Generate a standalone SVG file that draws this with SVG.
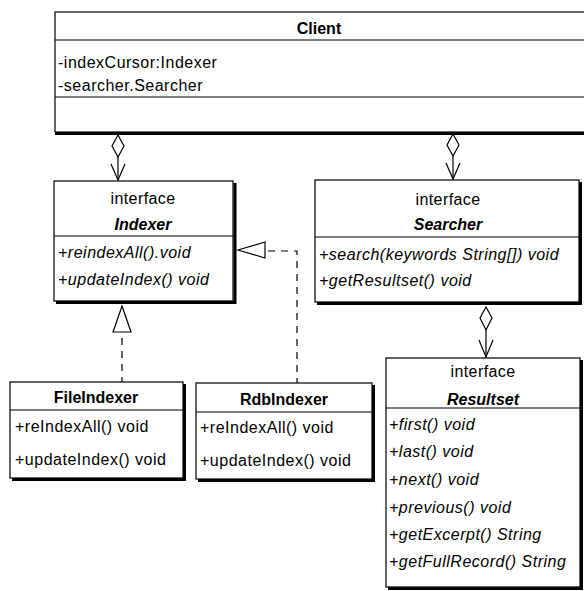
<svg xmlns="http://www.w3.org/2000/svg" width="584" height="591" viewBox="0 0 584 591">
  <style>
    text { font-family: "Liberation Sans", Arial, sans-serif; font-size: 16px; fill: #000; }
    .title { font-weight: bold; text-anchor: middle; }
    .ititle { font-weight: bold; font-style: italic; text-anchor: middle; }
    .stereo { text-anchor: middle; letter-spacing: 0.4px; }
    .member { letter-spacing: 0.5px; }
    .imember { font-style: italic; letter-spacing: 0.5px; }
    .box { fill: #fff; stroke: #000; stroke-width: 1.2; }
    .shadow { fill: none; stroke: #000; stroke-width: 3; }
    .sep { stroke: #000; stroke-width: 1.2; }
    .edge { fill: none; stroke: #000; stroke-width: 1.2; }
    .dash { fill: none; stroke: #000; stroke-width: 1.2; stroke-dasharray: 7 6; }
    .diamond { fill: #fff; stroke: #000; stroke-width: 1.2; }
    .tri { fill: #fff; stroke: #000; stroke-width: 1.2; }
  </style>
  <rect width="584" height="591" fill="#fff"/>

  <!-- Client class -->
  <g id="client">
    <rect class="box" x="55" y="12" width="560" height="120"/>
    <polyline class="shadow" points="55,133.5 600,133.5"/>
    <line class="sep" x1="55" y1="40" x2="600" y2="40"/>
    <line class="sep" x1="55" y1="97" x2="600" y2="97"/>
    <text class="title" x="319" y="34">Client</text>
    <text class="member" x="58" y="68">-indexCursor:Indexer</text>
    <text class="member" x="58" y="91">-searcher.Searcher</text>
  </g>

  <!-- Indexer interface -->
  <g id="indexer">
    <rect class="box" x="54" y="181" width="179" height="120"/>
    <polyline class="shadow" points="235,183 235,302.5 56,302.5"/>
    <line class="sep" x1="54" y1="236" x2="233" y2="236"/>
    <text class="stereo" x="143" y="204">interface</text>
    <text class="ititle" x="143" y="230">Indexer</text>
    <text class="imember" x="58" y="258">+reindexAll().void</text>
    <text class="imember" x="58" y="285">+updateIndex() void</text>
  </g>

  <!-- Searcher interface -->
  <g id="searcher">
    <rect class="box" x="315" y="180" width="264" height="122"/>
    <polyline class="shadow" points="580.5,182 580.5,303.5 317,303.5"/>
    <line class="sep" x1="315" y1="237" x2="579" y2="237"/>
    <text class="stereo" x="448" y="205">interface</text>
    <text class="ititle" x="448" y="230">Searcher</text>
    <text class="imember" x="319" y="260" letter-spacing="0.2">+search(keywords String[]) void</text>
    <text class="imember" x="319" y="286">+getResultset() void</text>
  </g>

  <!-- Resultset interface -->
  <g id="resultset">
    <rect class="box" x="386" y="358" width="194" height="229"/>
    <polyline class="shadow" points="581.5,360 581.5,588.5 388,588.5"/>
    <line class="sep" x1="386" y1="408" x2="580" y2="408"/>
    <text class="stereo" x="483" y="377">interface</text>
    <text class="ititle" x="483" y="405">Resultset</text>
    <text class="imember" x="389" y="430">+first() void</text>
    <text class="imember" x="389" y="457">+last() void</text>
    <text class="imember" x="389" y="485">+next() void</text>
    <text class="imember" x="389" y="513">+previous() void</text>
    <text class="imember" x="389" y="540">+getExcerpt() String</text>
    <text class="imember" x="389" y="567">+getFullRecord() String</text>
  </g>

  <!-- FileIndexer class -->
  <g id="fileindexer">
    <rect class="box" x="10" y="382" width="173" height="96"/>
    <polyline class="shadow" points="184.5,384 184.5,479.5 12,479.5"/>
    <line class="sep" x1="10" y1="410" x2="183" y2="410"/>
    <text class="title" x="96" y="403">FileIndexer</text>
    <text class="member" x="15" y="432">+reIndexAll() void</text>
    <text class="member" x="15" y="465">+updateIndex() void</text>
  </g>

  <!-- RdbIndexer class -->
  <g id="rdbindexer">
    <rect class="box" x="196" y="383" width="176" height="96"/>
    <polyline class="shadow" points="373.5,385 373.5,480.5 198,480.5"/>
    <line class="sep" x1="196" y1="412" x2="372" y2="412"/>
    <text class="title" x="284" y="405">RdbIndexer</text>
    <text class="member" x="200" y="433">+reIndexAll() void</text>
    <text class="member" x="200" y="466">+updateIndex() void</text>
  </g>

  <!-- Connectors -->
  <g id="connectors">
    <!-- Client aggregates Indexer -->
    <polygon class="diamond" points="118,135 124,146 118,157 112,146"/>
    <line class="edge" x1="118" y1="157" x2="118" y2="180"/>
    <polyline class="edge" points="111,164 118,180 125,164"/>

    <!-- Client aggregates Searcher -->
    <polygon class="diamond" points="453,134 459,145 453,156 447,145"/>
    <line class="edge" x1="453" y1="156" x2="453" y2="179"/>
    <polyline class="edge" points="446,163 453,179 460,163"/>

    <!-- Searcher aggregates Resultset -->
    <polygon class="diamond" points="486,307 492,318 486,330 480,318"/>
    <line class="edge" x1="486" y1="330" x2="486" y2="357"/>
    <polyline class="edge" points="479,340 486,357 493,340"/>

    <!-- FileIndexer realizes Indexer -->
    <polygon class="tri" points="122,306 131,332 113,332"/>
    <line class="dash" x1="122" y1="338" x2="122" y2="382"/>

    <!-- RdbIndexer realizes Indexer -->
    <polygon class="tri" points="238,250 265,242 265,258"/>
    <polyline class="dash" points="268,251 297,251 297,383"/>
  </g>
</svg>
